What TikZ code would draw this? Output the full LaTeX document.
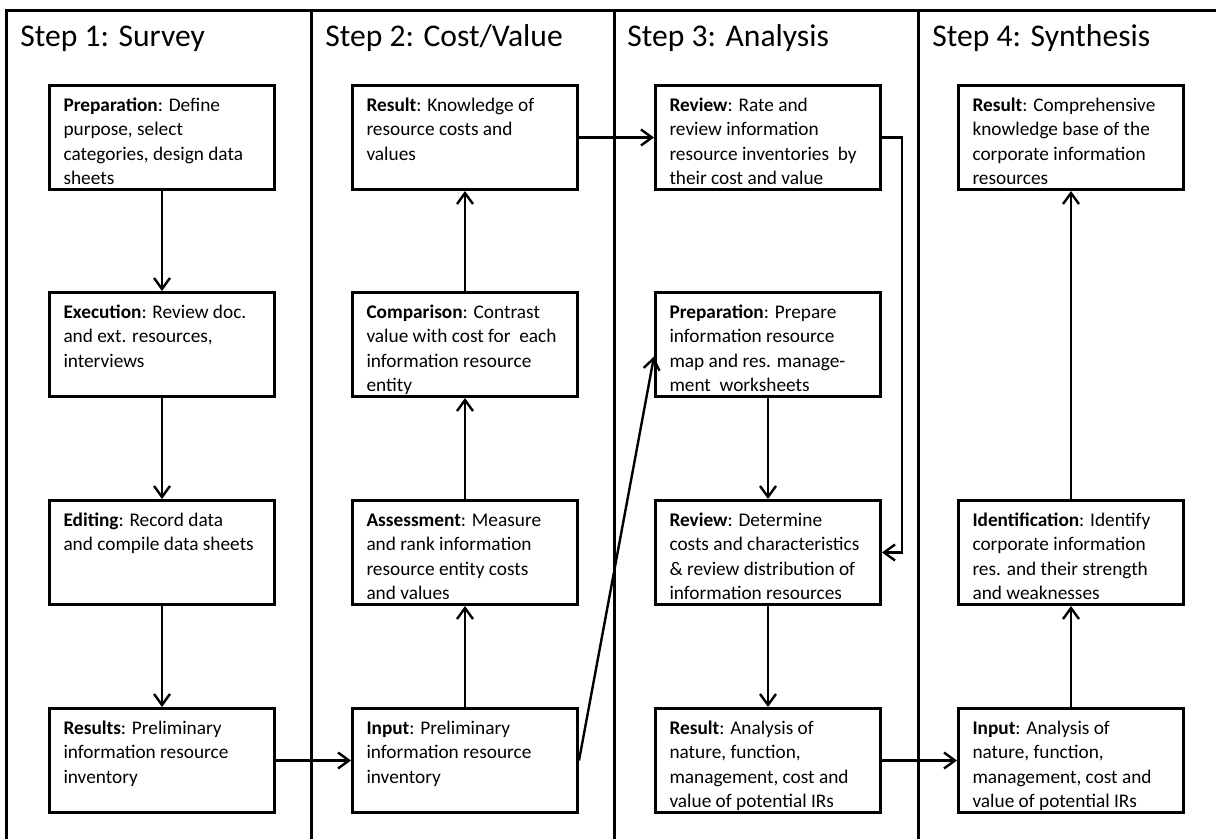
\documentclass[tikz,border=0pt]{standalone}
\usepackage{fontspec}
\setmainfont{Carlito}
\usetikzlibrary{arrows.meta,calc}
\newcommand{\bx}[1]{\parbox[c][52pt][t]{112.5pt}{\raggedright\leftskip=7pt\parindent=0pt\fontsize{9.65pt}{12.2pt}\selectfont\rule{0pt}{13pt}#1}}
\tikzset{
  stepbox/.style={draw, line width=1.5pt, inner sep=0pt, anchor=north west},
  framel/.style={line width=1.5pt},
  arr/.style={line width=1.2pt, -{Straight Barb[length=5.5pt,width=8pt,line width=1.2pt]}},
  steptitle/.style={anchor=base west, inner sep=0pt, font=\fontsize{15.8pt}{18pt}\selectfont}
}
\begin{document}
\begin{tikzpicture}[x=0.5pt,y=-0.5pt]
\useasboundingbox (0,0) rectangle (1216,839);
% frame
\draw[framel] (6.5,839) -- (6.5,11) -- (1216,11);
\draw[framel] (311.5,11) -- (311.5,839);
\draw[framel] (614,11) -- (614,839);
\draw[framel] (918,11) -- (918,839);
% titles
\node[steptitle] (t1) at (20,46.7) {Step 1: Survey};
\node[steptitle] (t2) at (325,46.7) {Step 2: Cost/Value};
\node[steptitle] (t3) at (627,46.7) {Step 3: Analysis};
\node[steptitle] (t4) at (932,46.7) {Step 4: Synthesis};
% column 1
\node[stepbox] (a1) at (48,84) {\bx{\textbf{Preparation}: Define\\purpose, select\\categories, design data\\sheets}};
\node[stepbox] (a2) at (48,291) {\bx{\textbf{Execution}: Review doc.\\and ext. resources,\\interviews}};
\node[stepbox] (a3) at (48,499) {\bx{\textbf{Editing}: Record data\\and compile data sheets}};
\node[stepbox] (a4) at (48,707) {\bx{\textbf{Results}: Preliminary\\information resource\\inventory}};
% column 2
\node[stepbox] (b1) at (351,84) {\bx{\textbf{Result}: Knowledge of\\resource costs and\\values}};
\node[stepbox] (b2) at (351,291) {\bx{\textbf{Comparison}: Contrast\\value with cost for\ \ each\\information resource\\entity}};
\node[stepbox] (b3) at (351,499) {\bx{\textbf{Assessment}: Measure\\and rank information\\resource entity costs\\and values}};
\node[stepbox] (b4) at (351,707) {\bx{\textbf{Input}: Preliminary\\information resource\\inventory}};
% column 3
\node[stepbox] (c1) at (654,84) {\bx{\textbf{Review}: Rate and\\review information\\resource inventories\ \ by\\their cost and value}};
\node[stepbox] (c2) at (654,291) {\bx{\textbf{Preparation}: Prepare\\information resource\\map and res. manage-\\ment\ \ worksheets}};
\node[stepbox] (c3) at (654,499) {\bx{\textbf{Review}: Determine\\costs and characteristics\\\& review distribution of\\information resources}};
\node[stepbox] (c4) at (654,707) {\bx{\textbf{Result}: Analysis of\\nature, function,\\management, cost and\\value of potential IRs}};
% column 4
\node[stepbox] (d1) at (957,84) {\bx{\textbf{Result}: Comprehensive\\knowledge base of the\\corporate information\\resources}};
\node[stepbox] (d2) at (957,499) {\bx{\textbf{Identification}: Identify\\corporate information\\res. and their strength\\and weaknesses}};
\node[stepbox] (d4) at (957,707) {\bx{\textbf{Input}: Analysis of\\nature, function,\\management, cost and\\value of potential IRs}};
% connectors
\draw[arr] (a1.south) -- (a2.north);
\draw[arr] (a2.south) -- (a3.north);
\draw[arr] (a3.south) -- (a4.north);
\draw[arr] (a4.east) -- (b4.west);
\draw[arr] (b4.north) -- (b3.south);
\draw[arr] (b3.north) -- (b2.south);
\draw[arr] (b2.north) -- (b1.south);
\draw[arr] (b1.east) -- (c1.west);
\draw[arr] (b4.east) -- ([yshift=-6pt]c2.west);
\draw[arr] (c1.east) -- ++(20,0) |- (c3.east);
\draw[arr] (c2.south) -- (c3.north);
\draw[arr] (c3.south) -- (c4.north);
\draw[arr] (c4.east) -- (d4.west);
\draw[arr] (d4.north) -- (d2.south);
\draw[arr] (d2.north) -- (d1.south);
\end{tikzpicture}
\end{document}
